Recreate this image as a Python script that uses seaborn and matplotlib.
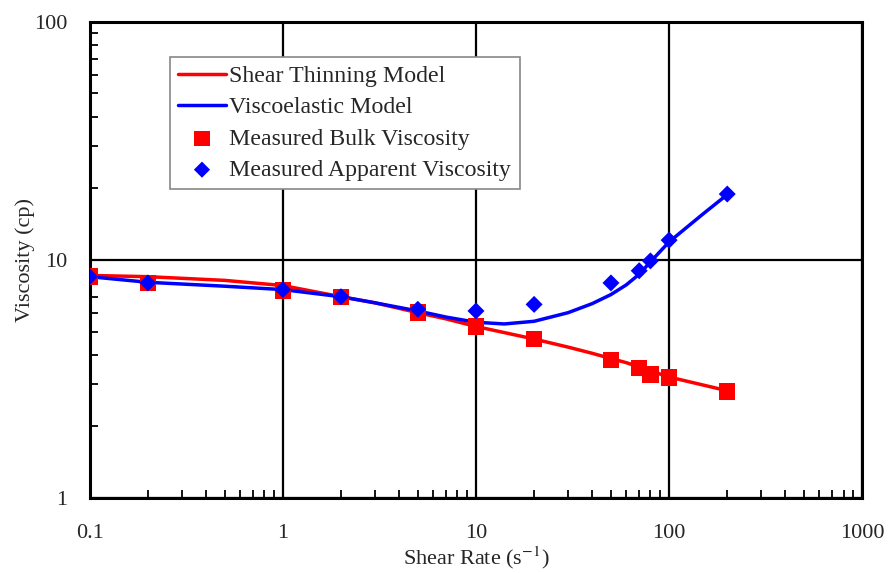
import numpy as np
import pandas as pd
import matplotlib.pyplot as plt
import matplotlib.ticker as mticker
import seaborn as sns

shear_rate = [0.1, 0.2, 1, 2, 5, 10, 20, 50, 70, 80, 100, 200]
bulk_visc = [8.5, 8.0, 7.45, 7.0, 6.0, 5.25, 4.65, 3.8, 3.52, 3.3, 3.2, 2.8]
apparent_visc = [8.5, 8.0, 7.5, 7.0, 6.2, 6.1, 6.5, 8.0, 9.0, 9.9, 12.1, 18.9]

# model curves
model_rate = [0.1, 0.2, 0.5, 1, 2, 3, 5, 7, 10, 14, 20, 30, 40, 50, 60, 70, 80, 100, 150, 200]
thinning_model = [8.6, 8.5, 8.2, 7.8, 7.0, 6.6, 6.0, 5.65, 5.25, 4.95, 4.65, 4.3, 4.05, 3.85,
                  3.7, 3.55, 3.42, 3.22, 2.98, 2.82]
viscoelastic_model = [8.5, 8.05, 7.75, 7.5, 7.0, 6.6, 6.1, 5.75, 5.47, 5.38, 5.52, 6.0, 6.55,
                      7.15, 7.85, 8.7, 9.8, 11.9, 15.6, 18.8]

sns.set_style("white")
plt.rcParams['font.family'] = ['Liberation Serif', 'DejaVu Serif']
plt.rcParams['mathtext.fontset'] = 'stix'

fig = plt.figure(figsize=(8.88, 5.73), dpi=100)
ax = fig.add_axes([0.101, 0.131, 0.870, 0.831])

sns.lineplot(x=model_rate, y=thinning_model, ax=ax, color='#ff0000', lw=2.5,
             label='Shear Thinning Model', zorder=3)
sns.lineplot(x=model_rate, y=viscoelastic_model, ax=ax, color='#0000ff', lw=2.5,
             label='Viscoelastic Model', zorder=3)
sns.scatterplot(x=shear_rate, y=bulk_visc, ax=ax, color='#ff0000', marker='s',
                s=140, edgecolor='none', label='Measured Bulk Viscosity', zorder=4)
sns.scatterplot(x=shear_rate, y=apparent_visc, ax=ax, color='#0000ff', marker='D',
                s=75, edgecolor='none', label='Measured Apparent Viscosity', zorder=5)

ax.set_xscale('log')
ax.set_yscale('log')
ax.set_xlim(0.1, 1000)
ax.set_ylim(1, 100)
ax.xaxis.set_major_formatter(mticker.FuncFormatter(lambda v, p: f'{v:g}'))
ax.yaxis.set_major_formatter(mticker.FuncFormatter(lambda v, p: f'{v:g}'))
ax.xaxis.set_minor_locator(mticker.LogLocator(base=10, subs=np.arange(2, 10)))
ax.yaxis.set_minor_locator(mticker.LogLocator(base=10, subs=np.arange(2, 10)))
ax.xaxis.set_minor_formatter(mticker.NullFormatter())
ax.yaxis.set_minor_formatter(mticker.NullFormatter())

ax.grid(True, which='major', color='black', lw=1.6)
ax.tick_params(which='major', length=0, labelsize=16, pad=16)
ax.tick_params(axis='x', which='major', pad=19)
ax.tick_params(which='minor', direction='in', length=6, width=1.3, color='black',
               bottom=True, left=True)
for s in ax.spines.values():
    s.set_color('black')
    s.set_linewidth(2.2)

ax.set_xlabel('Shear Rate (s$^{-1}$)', fontsize=16, labelpad=1)
ax.set_ylabel('Viscosity (cp)', fontsize=16, labelpad=-1)

leg = ax.legend(loc='upper left', bbox_to_anchor=(0.1036, 0.926), borderaxespad=0,
                fontsize=17.2, frameon=True, fancybox=False, edgecolor='#888888',
                framealpha=1, handlelength=2.0, handletextpad=0.15, borderpad=0.35,
                labelspacing=0.4, markerscale=0.95)
leg.get_frame().set_linewidth(1.2)

fig.savefig('out.png', dpi=100)
